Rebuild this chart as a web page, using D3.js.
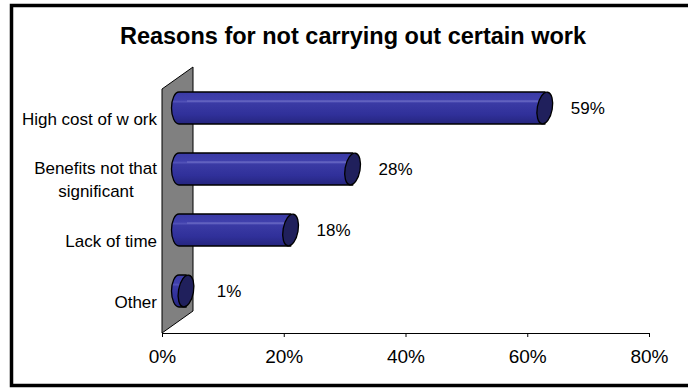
<!DOCTYPE html>
<html>
<head>
<meta charset="utf-8">
<script src="https://cdn.jsdelivr.net/npm/d3@7/dist/d3.min.js"></script>
<style>
  html, body { margin: 0; padding: 0; background: #fff; }
  svg { display: block; font-family: Arial, "Liberation Sans", sans-serif; }
</style>
</head>
<body>
<svg id="chart" width="688" height="389"></svg>
<script>
// Survey results: reasons for not carrying out certain work
const categories = ["High cost of work", "Benefits not that significant", "Lack of time", "Other"];
const categoryLines = [["High cost of w ork"], ["Benefits not that", "significant"], ["Lack of time"], ["Other"]];
const values = [59, 28, 18, 1];
const valueLabels = ["59%", "28%", "18%", "1%"];
const tickValues = [0, 20, 40, 60, 80];
const titleText = "Reasons for not carrying out certain work";

const svg = d3.select("#chart");

// outer frame
svg.append("rect")
  .attr("x", 11.5).attr("y", 5.5)
  .attr("width", 720).attr("height", 380)
  .attr("fill", "#fff").attr("stroke", "#000").attr("stroke-width", 3.5);

// title
svg.append("text")
  .attr("x", 353).attr("y", 44)
  .attr("text-anchor", "middle")
  .attr("font-size", 23.5).attr("font-weight", "bold")
  .text(titleText);

// front-plane scale (axis) and depth offset of the back plane
const x = d3.scaleLinear().domain([0, 80]).range([162, 649]);
const depth = { dx: 31, dy: -22 };
const axisY = 333;
const plotTop = 89;

const y = d3.scaleBand().domain(categories).range([88, 332]);

// side wall (gray, left)
const wall = [
  [x(0), plotTop], [x(0) + depth.dx, plotTop + depth.dy],
  [x(0) + depth.dx, axisY + depth.dy], [x(0), axisY]
];
svg.append("path")
  .attr("d", d3.line()(wall) + "Z")
  .attr("fill", "#808080").attr("stroke", "#000").attr("stroke-width", 1);

// x axis
const gx = svg.append("g").attr("transform", `translate(0,${axisY})`);
gx.call(d3.axisBottom(x).tickValues(tickValues).tickSize(4).tickSizeOuter(0)
  .tickFormat(d => d + "%"));
gx.select(".domain").attr("stroke", "#000").attr("stroke-width", 1);
gx.selectAll(".tick line").attr("stroke", "#000");
gx.selectAll(".tick text").attr("font-size", 19).attr("fill", "#000")
  .attr("y", 0).attr("dy", 0).attr("transform", "translate(0,30)")
  .attr("font-family", "Arial, 'Liberation Sans', sans-serif");

// category labels
const catG = svg.append("g");
categories.forEach((c, i) => {
  const lines = categoryLines[i];
  const cy = y(c) + y.bandwidth() / 2;
  const t = catG.append("text").attr("font-size", 17).attr("fill", "#000");
  lines.forEach((ln, j) => {
    t.append("tspan")
      .attr("x", lines.length > 1 && j > 0 ? 96 : 157)
      .attr("text-anchor", lines.length > 1 && j > 0 ? "middle" : "end")
      .attr("y", cy + 6 + (j - (lines.length - 1) / 2) * 23)
      .text(ln);
  });
});

// bars sit midway in depth: own scale along the bar plane
const xb = d3.scaleLinear().domain([0, 80]).range([179, 675]);
const barOffsetY = -10.5;
const barH = 32;
const rx = 7.5, ry = barH / 2;

const defs = svg.append("defs");
const grad = defs.append("linearGradient").attr("id", "cyl").attr("x1", 0).attr("y1", 0).attr("x2", 0).attr("y2", 1);
[[0, "#3a3aa6"], [0.25, "#4040ac"], [0.3, "#5252b8"], [0.36, "#3a3aa4"], [0.7, "#30309a"], [1, "#25257e"]]
  .forEach(([o, c]) => grad.append("stop").attr("offset", o).attr("stop-color", c));

const barsG = svg.append("g");
categories.forEach((c, i) => {
  const cy = y(c) + y.bandwidth() / 2 + barOffsetY;
  const xs = xb(0);
  const xe = Math.max(xb(values[i]), xs + 7);
  const top = cy - ry, bot = cy + ry;
  // body with rounded left end
  const d = `M${xs},${top} L${xe},${top} L${xe},${bot} L${xs},${bot} ` +
            `A${rx},${ry} 0 0 1 ${xs},${top} Z`;
  barsG.append("path").attr("d", d)
    .attr("fill", "url(#cyl)").attr("stroke", "#000").attr("stroke-width", 1.3);
  // faint highlight line along the body
  barsG.append("line")
    .attr("x1", xs + 8).attr("x2", xe - 4)
    .attr("y1", top + 9).attr("y2", top + 9)
    .attr("stroke", "#7a7acc").attr("stroke-width", 1).attr("opacity", 0.8);
  // end cap
  barsG.append("ellipse")
    .attr("cx", xe).attr("cy", cy).attr("rx", rx).attr("ry", ry)
    .attr("transform", `rotate(10,${xe},${cy})`)
    .attr("fill", "#20205c").attr("stroke", "#000").attr("stroke-width", 1.3);
  // value label
  barsG.append("text")
    .attr("x", xe + 43).attr("y", cy + 6)
    .attr("text-anchor", "middle").attr("font-size", 17).attr("fill", "#000")
    .text(valueLabels[i]);
});
</script>
</body>
</html>
